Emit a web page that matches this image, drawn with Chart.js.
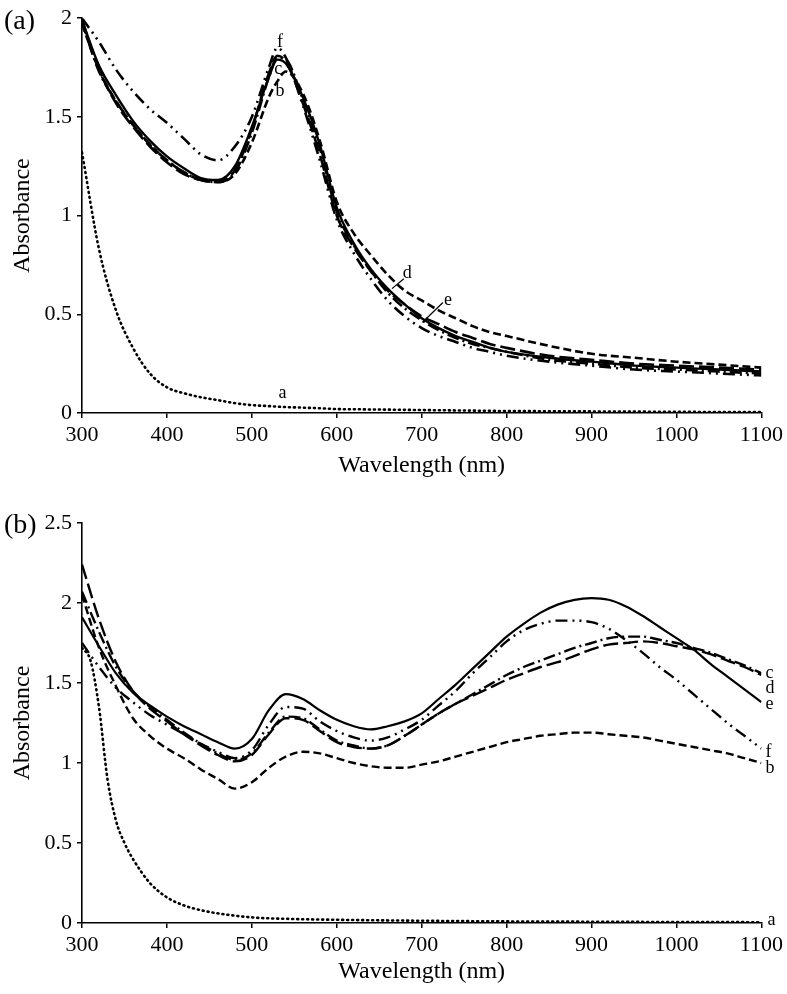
<!DOCTYPE html>
<html>
<head>
<meta charset="utf-8">
<script src="https://cdn.jsdelivr.net/npm/chart.js@4.4.1/dist/chart.umd.min.js"></script>
<style>
  html, body { margin: 0; padding: 0; background: #fff; }
  #wrap { position: relative; width: 787px; height: 994px; }
  canvas { position: absolute; left: 0; }
</style>
</head>
<body>
<div id="wrap">
  <canvas id="chartA" width="787" height="494" style="top:0"></canvas>
  <canvas id="chartB" width="787" height="500" style="top:494px"></canvas>
</div>
<script>
// ---- panel (a) ----
const wlA = [300,320,340,360,380,400,420,440,460,480,500,520,530,540,560,580,600,620,640,660,680,700,720,740,760,780,800,850,900,950,1000,1050,1100];
const aA = [1.32,0.83,0.52,0.33,0.20,0.13,0.10,0.08,0.065,0.05,0.04,0.035,0.032,0.03,0.027,0.024,0.02,0.019,0.018,0.017,0.016,0.015,0.014,0.013,0.012,0.011,0.01,0.009,0.008,0.007,0.006,0.005,0.005];
const bA = [1.97,1.74,1.58,1.46,1.36,1.28,1.22,1.18,1.17,1.21,1.37,1.60,1.68,1.73,1.62,1.38,1.07,0.91,0.80,0.70,0.62,0.57,0.52,0.48,0.44,0.41,0.39,0.34,0.30,0.28,0.26,0.245,0.23];
const cA = [1.98,1.73,1.58,1.46,1.36,1.28,1.22,1.18,1.17,1.22,1.42,1.70,1.80,1.79,1.59,1.34,1.02,0.85,0.72,0.61,0.53,0.47,0.42,0.38,0.35,0.33,0.31,0.27,0.25,0.23,0.22,0.21,0.20];
const dA = [1.99,1.74,1.57,1.45,1.35,1.27,1.21,1.18,1.17,1.23,1.44,1.72,1.81,1.78,1.57,1.31,1.00,0.84,0.72,0.62,0.55,0.49,0.45,0.41,0.38,0.35,0.33,0.29,0.27,0.25,0.24,0.23,0.22];
const eA = [1.99,1.76,1.61,1.48,1.38,1.30,1.24,1.19,1.18,1.25,1.45,1.70,1.79,1.77,1.60,1.36,1.04,0.86,0.73,0.63,0.55,0.48,0.43,0.39,0.36,0.33,0.31,0.28,0.26,0.24,0.23,0.22,0.21];
const fA = [2.00,1.88,1.74,1.63,1.54,1.47,1.39,1.31,1.28,1.35,1.50,1.75,1.85,1.80,1.56,1.28,0.98,0.81,0.68,0.57,0.49,0.43,0.39,0.36,0.33,0.31,0.29,0.26,0.24,0.22,0.21,0.20,0.19];

// ---- panel (b) ----
const wlB = [300,320,340,360,380,400,420,440,460,480,500,520,540,560,580,600,620,640,660,680,700,720,740,760,780,800,820,840,860,880,900,920,940,960,980,1000,1020,1040,1060,1080,1100];
// curve a drops fast, so it gets a finer grid of its own
const wlaB = [300,310,320,330,340,350,360,380,400,420,440,460,500,550,600,700,800,900,1000,1100];
const aB = [1.72,1.64,1.35,0.90,0.64,0.50,0.40,0.25,0.16,0.11,0.08,0.06,0.035,0.025,0.02,0.014,0.01,0.008,0.006,0.005];
const bB = [2.05,1.72,1.48,1.28,1.17,1.09,1.03,0.96,0.90,0.84,0.88,0.97,1.04,1.07,1.06,1.03,1.00,0.98,0.97,0.97,0.99,1.01,1.04,1.07,1.10,1.13,1.15,1.17,1.18,1.19,1.19,1.18,1.17,1.16,1.14,1.12,1.10,1.08,1.06,1.03,1.00];
const cB = [2.07,1.82,1.60,1.45,1.35,1.27,1.19,1.12,1.06,1.02,1.06,1.19,1.29,1.28,1.21,1.14,1.11,1.09,1.11,1.17,1.24,1.31,1.37,1.43,1.49,1.55,1.60,1.64,1.68,1.72,1.75,1.78,1.79,1.79,1.77,1.75,1.72,1.69,1.65,1.61,1.56];
const dB = [2.24,1.90,1.63,1.45,1.34,1.26,1.18,1.11,1.05,1.01,1.05,1.18,1.28,1.27,1.20,1.13,1.10,1.09,1.11,1.17,1.24,1.31,1.37,1.42,1.47,1.52,1.56,1.60,1.63,1.67,1.71,1.74,1.75,1.76,1.75,1.73,1.71,1.68,1.64,1.60,1.55];
const eB = [1.91,1.73,1.56,1.44,1.36,1.29,1.23,1.18,1.13,1.09,1.15,1.33,1.43,1.40,1.33,1.27,1.23,1.21,1.23,1.26,1.31,1.40,1.49,1.59,1.69,1.79,1.87,1.94,1.99,2.02,2.03,2.02,1.98,1.92,1.85,1.78,1.71,1.62,1.54,1.46,1.38];
const fB = [1.75,1.60,1.47,1.38,1.30,1.24,1.18,1.12,1.07,1.03,1.08,1.24,1.35,1.34,1.26,1.20,1.16,1.14,1.16,1.21,1.27,1.36,1.45,1.56,1.66,1.76,1.83,1.87,1.89,1.89,1.88,1.84,1.77,1.69,1.60,1.52,1.43,1.34,1.25,1.17,1.09];

const xTicks = ['300','400','500','600','700','800','900','1000','1100'];

const serif = '"Liberation Serif", "Times New Roman", serif';
Chart.defaults.color = '#000';
Chart.defaults.font.family = serif;

// line styles for curves a..f
const styles = {
  a: { borderDash: [1, 4], borderCapStyle: 'round', borderWidth: 2.6 },
  b: { borderDash: [8, 4] },
  c: { borderDash: [12, 4, 2, 4] },
  d: { borderDash: [15, 5] },
  e: { borderDash: [] },
  f: { borderDash: [12, 5, 2, 5, 2, 5] }
};

function makeSet(name, wl, vals, width) {
  return Object.assign({
    label: name,
    data: wl.map((w, i) => ({ x: w, y: vals[i] })),
    borderColor: '#000',
    borderWidth: width,
    pointRadius: 0,
    fill: false,
    cubicInterpolationMode: 'monotone'
  }, styles[name]);
}

// letters next to curves, panel tag, leader lines
const letterPlugin = {
  id: 'letters',
  afterDatasetsDraw(chart, args, opts) {
    const { ctx } = chart;
    const xs = chart.scales.x, ys = chart.scales.y;
    ctx.save();
    ctx.fillStyle = '#000';
    ctx.strokeStyle = '#000';
    ctx.lineWidth = 1.2;
    (opts.leaders || []).forEach(l => {
      ctx.beginPath();
      ctx.moveTo(xs.getPixelForValue(l[0]), ys.getPixelForValue(l[1]));
      ctx.lineTo(xs.getPixelForValue(l[2]), ys.getPixelForValue(l[3]));
      ctx.stroke();
    });
    ctx.font = '18px ' + serif;
    ctx.textBaseline = 'middle';
    (opts.labels || []).forEach(l => {
      ctx.textAlign = l.align || 'center';
      ctx.fillText(l.t, xs.getPixelForValue(l.x) + (l.dx || 0), ys.getPixelForValue(l.y));
    });
    ctx.font = '28px ' + serif;
    ctx.textAlign = 'left';
    ctx.fillText(opts.tag, 4, chart.chartArea.top + 3);
    ctx.restore();
  }
};

function makeOptions(yMax, axisH, titlePad, topPad, plug) {
  return {
    responsive: false,
    devicePixelRatio: 1,
    animation: false,
    layout: { padding: { left: 0, right: 25, top: topPad, bottom: 0 } },
    plugins: { legend: { display: false }, tooltip: { enabled: false }, letters: plug },
    scales: {
      x: {
        type: 'linear',
        min: 300, max: 1100,
        afterFit: a => { a.height = axisH; },
        afterBuildTicks: a => { a.ticks = xTicks.map(v => ({ value: +v })); },
        ticks: { font: { size: 22 }, padding: 4, maxRotation: 0, callback: v => String(v) },
        grid: { display: true, drawOnChartArea: false, tickLength: 5, color: '#000', lineWidth: 1.5 },
        border: { display: true, color: '#000', width: 1.6 },
        title: { display: true, text: 'Wavelength (nm)', font: { size: 24 }, padding: { top: 0, bottom: titlePad } }
      },
      y: {
        min: 0, max: yMax,
        afterFit: a => { a.width = 82; },
        ticks: { stepSize: 0.5, font: { size: 22 }, padding: 5, callback: v => String(+v.toFixed(1)) },
        grid: { display: true, drawOnChartArea: false, tickLength: 5, color: '#000', lineWidth: 1.5 },
        border: { display: true, color: '#000', width: 1.6 },
        title: { display: true, text: 'Absorbance', font: { size: 24 }, padding: { top: 8, bottom: 0 } }
      }
    }
  };
}

new Chart(document.getElementById('chartA'), {
  type: 'line',
  data: {
    datasets: [
      makeSet('a', wlA, aA, 2.6),
      makeSet('b', wlA, bA, 2.6),
      makeSet('c', wlA, cA, 2.6),
      makeSet('d', wlA, dA, 2.6),
      makeSet('e', wlA, eA, 2.4),
      makeSet('f', wlA, fA, 2.6)
    ]
  },
  options: makeOptions(2, 81, 14, 18, {
    tag: '(a)',
    labels: [
      { t: 'f', x: 533, y: 1.88 },
      { t: 'c', x: 531, y: 1.74 },
      { t: 'b', x: 533, y: 1.63 },
      { t: 'd', x: 683, y: 0.71 },
      { t: 'e', x: 731, y: 0.57 },
      { t: 'a', x: 536, y: 0.10 }
    ],
    leaders: [[665, 0.63, 679, 0.68], [701, 0.46, 725, 0.56]]
  }),
  plugins: [letterPlugin]
});

new Chart(document.getElementById('chartB'), {
  type: 'line',
  data: {
    datasets: [
      makeSet('a', wlaB, aB, 2.4),
      makeSet('b', wlB, bB, 2.4),
      makeSet('c', wlB, cB, 2.4),
      makeSet('d', wlB, dB, 2.4),
      makeSet('e', wlB, eB, 2.2),
      makeSet('f', wlB, fB, 2.4)
    ]
  },
  options: makeOptions(2.5, 71, 8, 29, {
    tag: '(b)',
    labels: [
      { t: 'c', x: 1100, dx: 4, y: 1.56, align: 'left' },
      { t: 'd', x: 1100, dx: 4, y: 1.47, align: 'left' },
      { t: 'e', x: 1100, dx: 4, y: 1.37, align: 'left' },
      { t: 'f', x: 1100, dx: 4, y: 1.07, align: 'left' },
      { t: 'b', x: 1100, dx: 4, y: 0.97, align: 'left' },
      { t: 'a', x: 1100, dx: 6, y: 0.02, align: 'left' }
    ]
  }),
  plugins: [letterPlugin]
});
</script>
</body>
</html>
